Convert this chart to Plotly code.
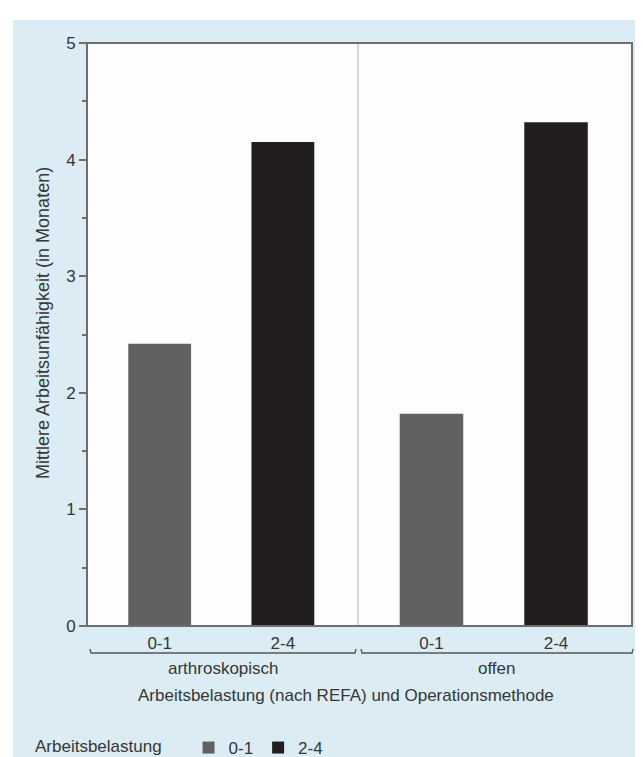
import plotly.graph_objects as go
from plotly.subplots import make_subplots

# ---- data ----
groups = ["arthroskopisch", "offen"]
belastung = ["0-1", "2-4"]
values_01 = [2.42, 1.82]
values_24 = [4.15, 4.32]
y_ticks = [0, 1, 2, 3, 4, 5]

colors = {"0-1": "#616063", "2-4": "#221e1f"}
font_family = "Liberation Sans, Arial, sans-serif"
text_color = "#363636"
FS = 17

W, H = 643, 757
L, R, T, B = 79, 19, 35, 139
pw = W - L - R
ph = H - T - B
split = (350 - L) / pw

fig = make_subplots(rows=1, cols=2, shared_yaxes=True, horizontal_spacing=0,
                    column_widths=[split, 1 - split])

series = {"0-1": values_01, "2-4": values_24}
for gi, g in enumerate(groups):
    for b in belastung:
        fig.add_trace(go.Bar(
            x=[b], y=[series[b][gi]], name=b, legendgroup=b,
            showlegend=(gi == 0), marker=dict(color=colors[b], line=dict(width=0)),
            width=0.51, hoverinfo="skip"), row=1, col=gi + 1)

fig.update_xaxes(type="category", categoryorder="array", categoryarray=belastung,
                 range=[-0.59, 1.61], showgrid=False, zeroline=False, showline=False,
                 ticks="outside", ticklen=2, tickcolor="rgba(0,0,0,0)",
                 tickfont=dict(size=FS, color=text_color, family=font_family), fixedrange=True)
fig.update_yaxes(range=[0, 5], showgrid=False, zeroline=False, showline=False, fixedrange=True)
fig.update_yaxes(tickvals=y_ticks, ticks="outside", ticklen=7, tickwidth=1.5, tickcolor="#707070",
                 minor=dict(ticks="outside", ticklen=4, dtick=0.5, tickcolor="#707070", tickwidth=1.5),
                 tickfont=dict(size=FS, color=text_color, family=font_family),
                 row=1, col=1)

def py(px):
    return (H - B - px) / ph

def pxp(px):
    return (px - L) / pw

shapes = []
# white strips on top/left edges
shapes.append(dict(type="rect", xref="paper", yref="paper", x0=pxp(-5), x1=pxp(W + 5),
                   y0=py(12), y1=py(-5), fillcolor="white", line=dict(width=0), layer="above"))
shapes.append(dict(type="rect", xref="paper", yref="paper", x0=pxp(-5), x1=pxp(5),
                   y0=py(H + 5), y1=py(-5), fillcolor="white", line=dict(width=0), layer="above"))
# divider
shapes.append(dict(type="line", xref="paper", yref="paper", x0=split, x1=split, y0=0, y1=1,
                   line=dict(color="#c8c8c8", width=1.5)))
# frame
shapes.append(dict(type="rect", xref="paper", yref="paper", x0=0, x1=1, y0=0, y1=1,
                   line=dict(color="#6e6e6e", width=2)))
# brackets
for (a, b_) in [(82, 348), (353, 625)]:
    yb, yt = py(645), py(641)
    shapes.append(dict(type="path", xref="paper", yref="paper",
                       path=f"M {pxp(a)},{yt} L {pxp(a+1)},{yb} L {pxp(b_-1)},{yb} L {pxp(b_)},{yt}",
                       line=dict(color="#555555", width=1.3)))

annotations = []
for g, (a, b_) in zip(groups, [(82, 348), (353, 625)]):
    annotations.append(dict(text=g, xref="paper", yref="paper", x=pxp((a + b_) / 2), y=py(660),
                            showarrow=False, xanchor="center", yanchor="middle",
                            font=dict(size=FS, color=text_color, family=font_family)))
annotations.append(dict(text="Arbeitsbelastung (nach REFA) und Operationsmethode",
                        xref="paper", yref="paper", x=pxp(338), y=py(687), showarrow=False,
                        xanchor="center", yanchor="middle",
                        font=dict(size=FS, color=text_color, family=font_family)))
annotations.append(dict(text="Mittlere Arbeitsunfähigkeit (in Monaten)",
                        xref="paper", yref="paper", x=pxp(35), y=py(315), showarrow=False,
                        textangle=-90, xanchor="center", yanchor="middle",
                        font=dict(size=18, color=text_color, family=font_family)))

fig.update_layout(
    width=W, height=H, margin=dict(l=L, r=R, t=T, b=B, autoexpand=False),
    paper_bgcolor="#dbecf5", plot_bgcolor="#fdfdfd", barmode="overlay",
    shapes=shapes, annotations=annotations,
    showlegend=True,
    legend=dict(orientation="h", x=pxp(25), y=py(722), xanchor="left", yanchor="top",
                bgcolor="rgba(0,0,0,0)", traceorder="normal",
                title=dict(text="Arbeitsbelastung" + "\u00a0" * 4, side="left",
                           font=dict(size=FS, color=text_color, family=font_family)),
                font=dict(size=FS, color=text_color, family=font_family),
                itemwidth=30, tracegroupgap=0),
)

fig.write_html("out.html")
